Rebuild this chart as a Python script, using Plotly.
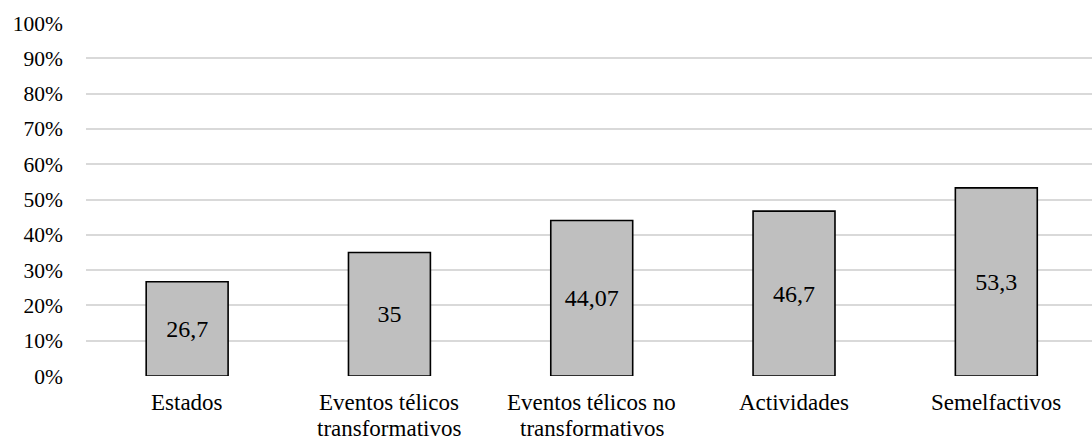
import plotly.graph_objects as go

categories = [
    "Estados",
    "Eventos télicos<br>transformativos",
    "Eventos télicos no<br>transformativos",
    "Actividades",
    "Semelfactivos",
]
values = [26.7, 35, 44.07, 46.7, 53.3]
y_ticks = list(range(0, 101, 10))
y_tick_labels = [f"{t}%" for t in y_ticks]

bar_text = [str(v).replace(".", ",") for v in values]
positions = list(range(len(categories)))

SERIF = "'Liberation Serif', 'Times New Roman', serif"

fig = go.Figure(
    go.Bar(
        x=positions,
        y=values,
        text=bar_text,
        textposition="inside",
        insidetextanchor="middle",
        textangle=0,
        textfont=dict(family=SERIF, size=24, color="#000000"),
        marker=dict(color="#BFBFBF", line=dict(color="#000000", width=1.6)),
        width=0.405,
        hoverinfo="skip",
    )
)

# Category labels, one line at a time so the two-line names sit tightly
line_offsets = [13.5, 39.5]
for i, name in enumerate(categories):
    for j, line in enumerate(name.split("<br>")):
        fig.add_annotation(
            x=i,
            y=0,
            xref="x",
            yref="paper",
            text=line,
            showarrow=False,
            xanchor="center",
            yanchor="top",
            height=22,
            borderpad=0,
            yshift=-line_offsets[j],
            font=dict(family=SERIF, size=23, color="#000000"),
        )

fig.update_layout(
    width=1092,
    height=441,
    margin=dict(l=86, r=0, t=23, b=65),
    paper_bgcolor="white",
    plot_bgcolor="white",
    showlegend=False,
    font=dict(family=SERIF, size=22, color="#000000"),
    uniformtext=dict(mode=False),
)
fig.update_xaxes(
    range=[-0.5, 4.473],
    showgrid=False,
    showline=False,
    zeroline=False,
    ticks="",
    showticklabels=False,
    automargin=False,
)
fig.update_yaxes(
    range=[0, 100],
    tickvals=y_ticks,
    ticktext=y_tick_labels,
    showgrid=True,
    gridcolor="#D9D9D9",
    gridwidth=1.5,
    zeroline=False,
    showline=False,
    ticks="",
    automargin=False,
    ticklabelstandoff=22,
    tickfont=dict(family=SERIF, size=21.5),
)

fig.write_html("out.html")
